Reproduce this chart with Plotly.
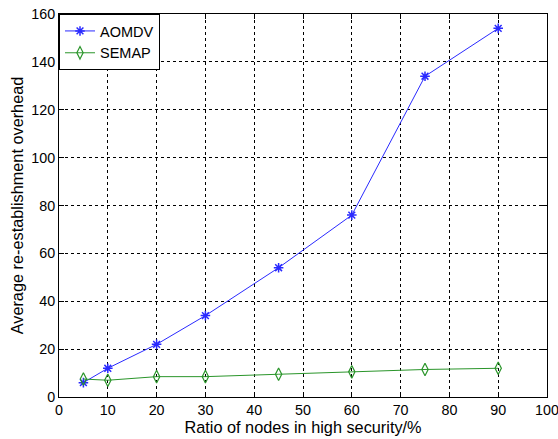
import plotly.graph_objects as go

# Ratio of nodes in high security (%)
ratio = [5, 10, 20, 30, 45, 60, 75, 90]
# Average re-establishment overhead for each protocol
aomdv = [6, 12, 22, 34, 54, 76, 134, 154]
semap = [7.5, 7, 8.5, 8.5, 9.5, 10.5, 11.5, 12]

x_ticks = list(range(0, 101, 10))
y_ticks = list(range(0, 161, 20))

family = "Liberation Sans, Arial, sans-serif"
tick_font = dict(family=family, size=14.3, color="black")
title_font = dict(family=family, size=16.3, color="black")
legend_font = dict(family=family, size=14.5, color="black")

fig = go.Figure()
fig.add_trace(go.Scatter(
    x=ratio, y=aomdv, name="AOMDV", mode="lines+markers",
    line=dict(color="#2a2aff", width=1),
    marker=dict(symbol="asterisk-open", size=8, color="#2a2aff",
                line=dict(color="#2a2aff", width=1.5)),
))
fig.add_trace(go.Scatter(
    x=ratio, y=semap, name="SEMAP", mode="lines+markers",
    line=dict(color="#2a952a", width=1),
    marker=dict(symbol="diamond-tall-open", size=9, color="#2a952a",
                line=dict(color="#2a952a", width=1.2)),
))

axis_common = dict(
    showline=True, mirror="ticks", linecolor="black", linewidth=1,
    ticks="inside", ticklen=5, tickcolor="black",
    showgrid=True, gridcolor="black", griddash="3px,3px", gridwidth=1,
    zeroline=False, tickfont=tick_font, ticklabeloverflow="allow",
)

fig.update_layout(
    width=558, height=439,
    margin=dict(l=59, r=11, t=14, b=42, autoexpand=False),
    paper_bgcolor="white", plot_bgcolor="white",
    font=tick_font,
    xaxis=dict(range=[0, 100], tickvals=x_ticks,
               title=dict(text="Ratio of nodes in high security/%", font=title_font, standoff=1),
               **axis_common),
    yaxis=dict(range=[0, 160], tickvals=y_ticks,
               title=dict(text="Average re-establishment overhead", font=title_font, standoff=3),
               **axis_common),
    legend=dict(x=0, y=1, xanchor="left", yanchor="top",
                bgcolor="white", bordercolor="black", borderwidth=1,
                font=legend_font, tracegroupgap=0, itemwidth=30),
    showlegend=True,
)

fig.write_html("out.html")
